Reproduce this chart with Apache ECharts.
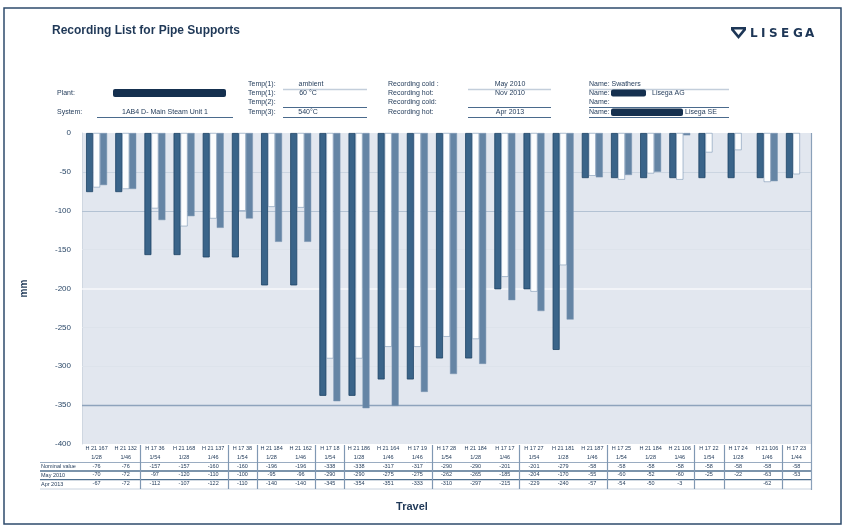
<!DOCTYPE html>
<html>
<head>
<meta charset="utf-8">
<script src="https://cdn.jsdelivr.net/npm/echarts@6/dist/echarts.min.js"></script>
<style>
  html, body { margin: 0; padding: 0; background: #ffffff; }
  #chart { width: 846px; height: 530px; }
</style>
</head>
<body>
<div id="chart"></div>
<script>
// Pipe support identifiers (table header, first line)
const supports = [
  'H 21 167', 'H 21 132', 'H 17 36', 'H 21 168', 'H 21 137', 'H 17 38', 'H 21 184', 'H 21 162',
  'H 17 18', 'H 21 186', 'H 21 164', 'H 17 19', 'H 17 28', 'H 21 184', 'H 17 17', 'H 17 27',
  'H 21 181', 'H 21 187', 'H 17 25', 'H 21 184', 'H 21 106', 'H 17 22', 'H 17 24', 'H 21 106', 'H 17 23'
];
// Support type (table header, second line)
const supportTypes = [
  '1/28', '1/46', '1/54', '1/28', '1/46', '1/54', '1/28', '1/46', '1/54', '1/28', '1/46', '1/46', '1/54',
  '1/28', '1/46', '1/54', '1/28', '1/46', '1/54', '1/28', '1/46', '1/54', '1/28', '1/46', '1/44'
];
// Number of supports per pipe section (table separators)
const sectionSizes = [2, 3, 1, 2, 1, 3, 3, 3, 3, 1, 2, 1];

// Travel in mm
const nominalTravel = [
  -76, -76, -157, -157, -160, -160, -196, -196, -338, -338, -317, -317, -290,
  -290, -201, -201, -279, -58, -58, -58, -58, -58, -58, -58, -58
];
const travelMay2010 = [
  -70, -72, -97, -120, -110, -100, -95, -96, -290, -290, -275, -275, -262,
  -265, -185, -204, -170, -55, -60, -52, -60, -25, -22, -63, -53
];
const travelApr2013 = [
  -67, -72, -112, -107, -122, -110, -140, -140, -345, -354, -351, -333, -310,
  -297, -215, -229, -240, -57, -54, -50, -3, null, null, -62, null
];
const rowLabels = ['Nominal value', 'May 2010', 'Apr 2013'];

// Value axis range
const yMin = -400, yMax = 0, yStep = 50;

const FONT = 'Liberation Sans, Arial, sans-serif';
const NAVY = '#1f3857';

const fmt = v => (v === null || v === undefined) ? '' : String(v);

// Horizontal guide lines inside the plot
const guideStyle = {
  '-50': { color: '#cbd5e1', width: 1 },
  '-100': { color: '#b3c2d3', width: 1.2 },
  '-150': { color: '#dde3eb', width: 1 },
  '-200': { color: '#f7f9fb', width: 1.6 },
  '-250': { color: '#dde3eb', width: 1 },
  '-300': { color: '#dde3eb', width: 1 },
  '-350': { color: '#8ea3bc', width: 1.3 }
};
const guideLines = [];
for (let v = yMin + yStep; v < yMax; v += yStep) {
  const s = guideStyle[String(v)];
  if (s) guideLines.push({ yAxis: v, lineStyle: { color: s.color, width: s.width, type: 'solid' } });
}

const chart = echarts.init(document.getElementById('chart'), null, { renderer: 'canvas' });

// Header block, title, logo and table frame
function txt(id, x, y, text, size, extra) {
  return {
    type: 'text', id: id, x: x, y: y, silent: true,
    style: Object.assign({ text: text, fill: NAVY, font: (size || 7) + 'px ' + FONT, verticalAlign: 'middle' }, extra || {})
  };
}
function hline(id, x1, x2, y, color, w) {
  return { type: 'line', id: id, silent: true, shape: { x1: x1, y1: y, x2: x2, y2: y }, style: { stroke: color, lineWidth: w } };
}
function blob(id, x, y, w, h) {
  return { type: 'rect', id: id, silent: true, shape: { x: x, y: y, width: w, height: h, r: 2 }, style: { fill: '#15304f' } };
}
const centered = { align: 'center' };

const graphics = [
  { type: 'rect', id: 'frame', silent: true, shape: { x: 4, y: 8, width: 837, height: 516 },
    style: { fill: 'none', stroke: '#2e4b6c', lineWidth: 1.5 } },
  txt('title', 52, 31, 'Recording List for Pipe Supports', 12, { font: 'bold 12px ' + FONT }),

  // logo mark
  { type: 'polygon', id: 'logoShield', silent: true,
    shape: { points: [[731, 27], [746, 27], [746, 30], [738.5, 39], [731, 30]] }, style: { fill: '#1d3656' } },
  { type: 'polygon', id: 'logoShieldInner', silent: true,
    shape: { points: [[734, 29.5], [743, 29.5], [738.5, 35]] }, style: { fill: '#ffffff' } },

  // left column
  txt('plantL', 57, 93, 'Plant:'),
  blob('plantB', 113, 89, 113, 8),
  txt('systemL', 57, 112, 'System:'),
  txt('systemV', 165, 112, '1AB4 D- Main Steam Unit 1', 7, centered),
  hline('systemU', 97, 233, 117.5, '#4a6a8c', 1),

  // temperatures
  txt('t1L', 248, 84, 'Temp(1):'),
  txt('t1V', 311, 84, 'ambient', 7, centered),
  hline('t1U', 283, 367, 89.5, '#c3cedb', 1.5),
  txt('t2L', 248, 93, 'Temp(1):'),
  txt('t2V', 308, 93, '60 °C', 7, centered),
  txt('t3L', 248, 102, 'Temp(2):'),
  txt('t4L', 248, 112, 'Temp(3):'),
  txt('t4V', 308, 112, '540°C', 7, centered),
  hline('t4A', 283, 367, 107.5, '#4a6a8c', 1),
  hline('t4U', 283, 367, 117.5, '#4a6a8c', 1),

  // recording dates
  txt('r1L', 388, 84, 'Recording cold :'),
  txt('r1V', 510, 84, 'May 2010', 7, centered),
  hline('r1U', 468, 551, 89.5, '#c3cedb', 1.5),
  txt('r2L', 388, 93, 'Recording hot:'),
  txt('r2V', 510, 93, 'Nov 2010', 7, centered),
  txt('r3L', 388, 102, 'Recording cold:'),
  txt('r4L', 388, 112, 'Recording hot:'),
  txt('r4V', 510, 112, 'Apr 2013', 7, centered),
  hline('r4A', 468, 551, 107.5, '#4a6a8c', 1),
  hline('r4U', 468, 551, 117.5, '#4a6a8c', 1),

  // names
  txt('n1L', 589, 84, 'Name: Swathers'),
  hline('n1U', 589, 729, 89.5, '#c3cedb', 1.5),
  txt('n2L', 589, 93, 'Name:'),
  blob('n2B', 611, 89.5, 35, 7),
  txt('n2V', 652, 93, 'Lisega AG'),
  txt('n3L', 589, 102, 'Name:'),
  txt('n4L', 589, 112, 'Name:'),
  blob('n4B', 611, 108.5, 72, 7.5),
  txt('n4V', 685, 112, 'Lisega SE'),
  hline('n4A', 589, 729, 107.5, '#4a6a8c', 1),
  hline('n4U', 589, 729, 117.5, '#4a6a8c', 1),

  // table row labels and rules
  txt('row1', 41, 466.5, rowLabels[0], 5.5),
  txt('row2', 41, 475.3, rowLabels[1], 5.5),
  txt('row3', 41, 484.1, rowLabels[2], 5.5),
  hline('tblA', 40, 811, 462.5, '#9aacc1', 1),
  hline('tblB', 40, 811, 471, '#50708f', 1.4),
  hline('tblC', 40, 811, 479.6, '#50708f', 1.4),
  hline('tblD', 40, 811, 489, '#c8d2de', 1),
  { type: 'line', id: 'rightEdge', silent: true, shape: { x1: 811.5, y1: 133, x2: 811.5, y2: 490 },
    style: { stroke: '#8aa0b9', lineWidth: 1.2 } },

  txt('travel', 412, 507, 'Travel', 11, { font: 'bold 11px ' + FONT, align: 'center' })
];

// logo lettering
const logoLetters = ['L', 'I', 'S', 'E', 'G', 'A'];
const logoX = [750, 761, 769, 781, 793, 805];
logoLetters.forEach((ch, i) => {
  graphics.push(txt('logo' + i, logoX[i], 33.5, ch, 12, { font: 'bold 12px DejaVu Sans, sans-serif', fill: '#1d3656' }));
});

const option = {
  animation: false,
  backgroundColor: '#ffffff',
  textStyle: { fontFamily: FONT },
  grid: {
    left: 82, right: 35, top: 133, bottom: 86,
    show: true, backgroundColor: '#e2e7ef', borderWidth: 0
  },
  xAxis: {
    type: 'category',
    data: supports,
    axisLine: { show: false },
    axisTick: { show: false },
    splitLine: { show: false },
    axisLabel: {
      interval: 0,
      margin: 0,
      color: NAVY,
      fontSize: 5.5,
      lineHeight: 8.8,
      fontFamily: FONT,
      formatter: (value, idx) => [
        supports[idx], supportTypes[idx],
        fmt(nominalTravel[idx]), fmt(travelMay2010[idx]), fmt(travelApr2013[idx])
      ].join('\n')
    }
  },
  yAxis: {
    type: 'value',
    min: yMin, max: yMax, interval: yStep,
    name: 'mm',
    nameLocation: 'middle',
    nameGap: 53,
    nameTextStyle: { color: NAVY, fontSize: 10, fontWeight: 'bold', fontFamily: FONT },
    axisLine: { show: true, lineStyle: { color: '#cfd7e1', width: 1 } },
    axisTick: { show: false },
    splitLine: { show: false },
    axisLabel: { color: '#2b4868', fontSize: 8, margin: 11, fontFamily: FONT }
  },
  series: [
    {
      name: rowLabels[0], type: 'bar', data: nominalTravel,
      barWidth: 7, barGap: '0%', z: 3,
      itemStyle: { color: '#3a6489', borderColor: '#1d4264', borderWidth: 0.8 },
      markLine: {
        silent: true, symbol: 'none', z: 1, animation: false,
        label: { show: false },
        data: guideLines
      }
    },
    {
      name: rowLabels[1], type: 'bar', data: travelMay2010,
      barWidth: 7, barGap: '0%', z: 3,
      itemStyle: { color: '#fcfdfe', borderColor: '#6584a6', borderWidth: 0.5 }
    },
    {
      name: rowLabels[2], type: 'bar', data: travelApr2013,
      barWidth: 7, barGap: '0%', z: 3,
      itemStyle: { color: '#6585a5', borderColor: '#7c96b2', borderWidth: 0.5 }
    }
  ],
  graphic: graphics
};

chart.setOption(option);

// Section separators in the data table, placed on category boundaries
const seps = [];
let acc = 0;
sectionSizes.slice(0, -1).forEach((n, i) => {
  acc += n;
  const a = chart.convertToPixel({ xAxisIndex: 0 }, acc - 1);
  const b = chart.convertToPixel({ xAxisIndex: 0 }, acc);
  const x = Math.round((a + b) / 2) + 0.5;
  seps.push({ type: 'line', id: 'sep' + i, silent: true,
    shape: { x1: x, y1: 445, x2: x, y2: 489 }, style: { stroke: '#8098b3', lineWidth: 1.2 } });
});
chart.setOption({ graphic: seps });
</script>
</body>
</html>
